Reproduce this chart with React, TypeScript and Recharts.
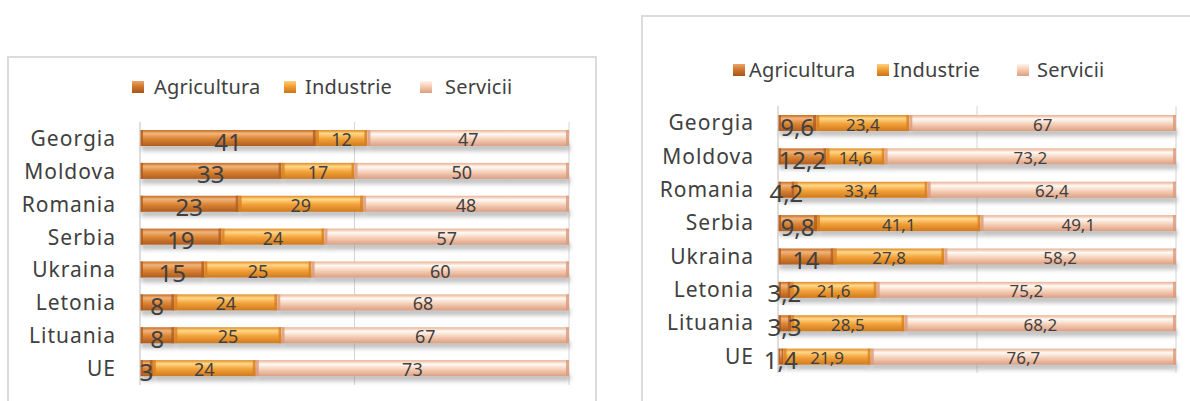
import React from "react";
import { BarChart, Bar, XAxis, YAxis, CartesianGrid, LabelList } from "recharts";

const categories = ["Georgia", "Moldova", "Romania", "Serbia", "Ukraina", "Letonia", "Lituania", "UE"];

// left chart (older shares)
const agriLeft = [41, 33, 23, 19, 15, 8, 8, 3];
const industryLeft = [12, 17, 29, 24, 25, 24, 25, 24];
const servicesLeft = [47, 50, 48, 57, 60, 68, 67, 73];

// right chart (recent shares)
const agriRight = [9.6, 12.2, 4.2, 9.8, 14, 3.2, 3.3, 1.4];
const industryRight = [23.4, 14.6, 33.4, 41.1, 27.8, 21.6, 28.5, 21.9];
const servicesRight = [67, 73.2, 62.4, 49.1, 58.2, 75.2, 68.2, 76.7];

const seriesNames = ["Agricultura", "Industrie", "Servicii"];

const FONT = "'Noto Sans', 'Open Sans', sans-serif";
const TEXT = "#404040";

const toRows = (a: number[], b: number[], c: number[]) =>
  categories.map((name, i) => ({ name, agri: a[i], ind: b[i], serv: c[i] }));

const leftData = toRows(agriLeft, industryLeft, servicesLeft);
const rightData = toRows(agriRight, industryRight, servicesRight);

const fmt = (v: number) => String(v).replace(".", ",");

const EDGE: Record<string, string> = {
  agri: "#b05c1e",
  ind: "#d9801f",
  serv: "#d99a7c",
};

const BevelBar = (props: any) => {
  const { x, y, width, height, fill, kind } = props;
  if (!width || width <= 0) return null;
  const e = Math.min(3, width / 3);
  return (
    <g>
      <rect x={x + 1} y={y + height - 2} width={width} height={7} fill="#8c8c8c" opacity={0.55} filter="url(#barShadow)" />
      <rect x={x} y={y} width={width} height={height} fill={fill} />
      <rect x={x} y={y} width={e} height={height} fill={EDGE[kind]} opacity={0.8} />
      <rect x={x + width - e} y={y} width={e} height={height} fill={EDGE[kind]} opacity={0.8} />
    </g>
  );
};

const makeLabel = (size: number, dy: number) => (props: any) => {
  const { x, y, width, height, value } = props;
  return (
    <text
      x={x + width / 2}
      y={y + height / 2 + dy}
      textAnchor="middle"
      dominantBaseline="central"
      fontSize={size}
      fontFamily={FONT}
      fill={TEXT}
    >
      {fmt(value)}
    </text>
  );
};

const swatch: Record<string, string> = {
  Agricultura: "linear-gradient(180deg,#eca468 0%,#d2772e 45%,#a5541a 100%)",
  Industrie: "linear-gradient(180deg,#ffd27a 0%,#f09a30 50%,#c8741c 100%)",
  Servicii: "linear-gradient(180deg,#fff4ec 0%,#f4c4a8 55%,#d9a080 100%)",
};

// square x and text x for each legend item
const LegendRow = ({ top, squares, texts }: { top: number; squares: number[]; texts: number[] }) => (
  <div style={{ position: "absolute", left: 0, top, fontFamily: FONT, fontSize: 20, letterSpacing: 0.2, color: TEXT, whiteSpace: "nowrap" }}>
    {seriesNames.map((n, i) => (
      <React.Fragment key={n}>
        <span style={{ position: "absolute", left: squares[i], top: -6, width: 12, height: 12, background: swatch[n] }} />
        <span style={{ position: "absolute", left: texts[i], top: -14, lineHeight: "28px" }}>{n}</span>
      </React.Fragment>
    ))}
  </div>
);

const StackChart = ({
  data,
  width,
  height,
  margin,
  labelSizes,
}: {
  data: any[];
  width: number;
  height: number;
  margin: any;
  labelSizes: number[];
}) => (
  <BarChart width={width} height={height} data={data} layout="vertical" margin={margin} barSize={16}>
    <CartesianGrid horizontal={false} vertical stroke="#d4d4d4" />
    <XAxis type="number" domain={[0, 100]} ticks={[0, 50, 100]} hide />
    <YAxis
      type="category"
      dataKey="name"
      width={130}
      axisLine={{ stroke: "#d4d4d4" }}
      tickLine={false}
      tickMargin={18}
      tick={{ fontSize: 21, fill: TEXT, fontFamily: FONT, letterSpacing: 1 }}
    />
    <Bar dataKey="agri" stackId="s" fill="url(#gAgri)" isAnimationActive={false} shape={(p: any) => <BevelBar {...p} kind="agri" />}>
      <LabelList dataKey="agri" content={makeLabel(labelSizes[0], 3)} />
    </Bar>
    <Bar dataKey="ind" stackId="s" fill="url(#gInd)" isAnimationActive={false} shape={(p: any) => <BevelBar {...p} kind="ind" />}>
      <LabelList dataKey="ind" content={makeLabel(labelSizes[1], 1)} />
    </Bar>
    <Bar dataKey="serv" stackId="s" fill="url(#gServ)" isAnimationActive={false} shape={(p: any) => <BevelBar {...p} kind="serv" />}>
      <LabelList dataKey="serv" content={makeLabel(labelSizes[2], 1)} />
    </Bar>
  </BarChart>
);

export default function App() {
  return (
    <div style={{ position: "absolute", left: 0, top: 0, width: 1190, height: 401, overflow: "hidden", background: "#fff" }}>
      <svg width={0} height={0} style={{ position: "absolute" }}>
        <defs>
          <linearGradient id="gAgri" x1="0" y1="0" x2="0" y2="1">
            <stop offset="0%" stopColor="#c46c26" />
            <stop offset="22%" stopColor="#f2b47a" />
            <stop offset="55%" stopColor="#da8434" />
            <stop offset="100%" stopColor="#b05c1e" />
          </linearGradient>
          <linearGradient id="gInd" x1="0" y1="0" x2="0" y2="1">
            <stop offset="0%" stopColor="#e08a26" />
            <stop offset="22%" stopColor="#ffd888" />
            <stop offset="55%" stopColor="#f3a23a" />
            <stop offset="100%" stopColor="#d07a1e" />
          </linearGradient>
          <linearGradient id="gServ" x1="0" y1="0" x2="0" y2="1">
            <stop offset="0%" stopColor="#eab092" />
            <stop offset="25%" stopColor="#fffaf4" />
            <stop offset="60%" stopColor="#f5ccb4" />
            <stop offset="100%" stopColor="#dca084" />
          </linearGradient>
          <filter id="barShadow" x="-5%" y="-100%" width="110%" height="300%">
            <feGaussianBlur stdDeviation="2" />
          </filter>
        </defs>
      </svg>

      {/* left panel */}
      <div style={{ position: "absolute", left: 7, top: 56, width: 586, height: 400, border: "2px solid #dcdcdc" }} />
      <LegendRow top={87} squares={[132, 284, 420]} texts={[154, 305, 445]} />
      <div style={{ position: "absolute", left: 0, top: 0 }}>
        <StackChart
          data={leftData}
          width={600}
          height={401}
          margin={{ top: 122, right: 31, bottom: 16, left: 10 }}
          labelSizes={[24, 18, 18]}
        />
      </div>

      {/* right panel */}
      <div style={{ position: "absolute", left: 641, top: 15, width: 600, height: 420, border: "2px solid #dcdcdc" }} />
      <LegendRow top={70} squares={[733, 877, 1017]} texts={[749, 893, 1037]} />
      <div style={{ position: "absolute", left: 600, top: 0 }}>
        <StackChart
          data={rightData}
          width={600}
          height={401}
          margin={{ top: 106, right: 24, bottom: 28, left: 48 }}
          labelSizes={[24, 17, 17]}
        />
      </div>
    </div>
  );
}
